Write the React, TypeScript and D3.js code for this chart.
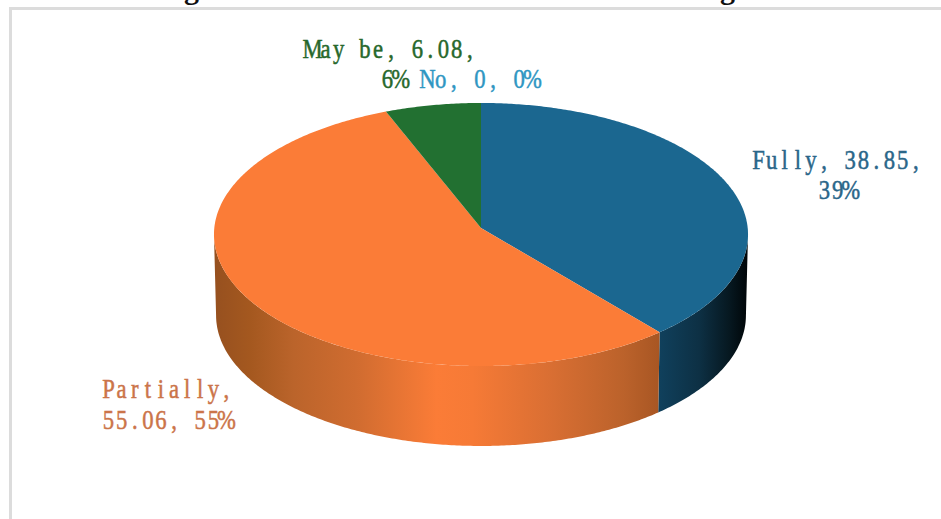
import React from "react";
import * as d3 from "d3";

// Survey shares
const categories = ["Fully", "Partially", "May be", "No"];
const values = [38.85, 55.06, 6.08, 0];
const topColors = ["#1b6790", "#fb7c37", "#227031", "#2b9ac8"];
const textColors = ["#2a6689", "#cb7449", "#27682b", "#2f96c2"];

// Where each label sits: one entry per text line (start x, baseline y, characters)
const labelLines = [
  [{ x: 752, y: 169, from: 0, to: 13 }, { x: 818, y: 199, from: 14, to: 17 }],
  [{ x: 102, y: 398, from: 0, to: 10 }, { x: 102, y: 429, from: 11, to: 21 }],
  [{ x: 306, y: 58, from: 0, to: 13 }, { x: 381, y: 88, from: 14, to: 16 }],
  [{ x: 421, y: 88, from: 0, to: 9 }],
];

// Side-wall shading, left to right across each wall
const wallStops = [
  [
    { at: 0, color: "#10405c" },
    { at: 0.45, color: "#0d3044" },
    { at: 0.8, color: "#06171f" },
    { at: 1, color: "#000507" },
  ],
  [
    { at: 0, color: "#96501f" },
    { at: 0.08, color: "#a4581f" },
    { at: 0.18, color: "#bb642b" },
    { at: 0.32, color: "#d06c30" },
    { at: 0.5, color: "#fb7c37" },
    { at: 0.58, color: "#f67a36" },
    { at: 0.75, color: "#da6f33" },
    { at: 0.92, color: "#bb622b" },
    { at: 1, color: "#a85623" },
  ],
];

const WIDTH = 941;
const HEIGHT = 519;
const PERSPECTIVE = 0.0494;
const CHAR_W = 13.1;
const H_SQUEEZE = 0.84;

const x = d3.scaleLinear().domain([-1, 1]).range([481 - 266.7, 481 + 266.7]);
const y = d3.scaleLinear().domain([-1, 1]).range([228 - 131.2, 228 + 131.2]);
const xBase = d3.scaleLinear().domain([-1, 1]).range([481 - 264.6, 481 + 264.6]);
const yBase = d3.scaleLinear().domain([-1, 1]).range([309 - 130.2, 309 + 130.2]);

// Perspective view of a disc: angle is clockwise from twelve o'clock
const project = (angle: number): [number, number] => {
  const w = 1 + PERSPECTIVE * Math.cos(angle);
  return [Math.sin(angle) / w, -Math.cos(angle) / w];
};

const arcAngles = (a0: number, a1: number) => {
  const n = Math.max(2, Math.ceil((a1 - a0) / 0.01));
  return d3.range(n + 1).map((i) => a0 + ((a1 - a0) * i) / n);
};

const pen = d3.line();
const pie = d3.pie<number>().sort(null).value((d) => d);
const slices = pie(values);

const rimStart = Math.acos(-PERSPECTIVE);
const rimEnd = 2 * Math.PI - rimStart;

const topPath = (a0: number, a1: number) => {
  const rim = arcAngles(a0, a1).map((a) => {
    const [u, v] = project(a);
    return [x(u), y(v)] as [number, number];
  });
  return pen([[x(0), y(0)], ...rim])! + "Z";
};

const wallPath = (a0: number, a1: number) => {
  const from = Math.max(a0, rimStart);
  const to = Math.min(a1, rimEnd);
  if (to <= from) return null;
  const angles = arcAngles(from, to);
  const upper = angles.map((a) => {
    const [u, v] = project(a);
    return [x(u), y(v)] as [number, number];
  });
  const lower = angles
    .map((a) => {
      const [u, v] = project(a);
      return [xBase(u), yBase(v)] as [number, number];
    })
    .reverse();
  const ends = [x(project(from)[0]), x(project(to)[0])];
  return { d: pen([...upper, ...lower])! + "Z", left: Math.min(...ends), right: Math.max(...ends) };
};

const labelText = (i: number) =>
  `${categories[i]}, ${values[i]}, ${Math.round(values[i])}%`;

// Half-width serif look: every character is centred in its own fixed cell
const MonoLine = ({ text, px, py, fill }: { text: string; px: number; py: number; fill: string }) => {
  const cells = Array.from(text).map((_, i) => ((i + 0.5) * CHAR_W) / H_SQUEEZE);
  return (
    <text
      transform={`translate(${px},${py}) scale(${H_SQUEEZE},1)`}
      x={cells.join(" ")}
      y={0}
      textAnchor="middle"
      fill={fill}
      stroke={fill}
      strokeWidth={0.5}
      fontFamily="'Liberation Serif', serif"
      fontSize={27}
      style={{ whiteSpace: "pre" }}
    >
      {text}
    </text>
  );
};

export default function App() {
  const walls = slices.map((s) => wallPath(s.startAngle, s.endAngle));
  return (
    <svg
      width={WIDTH}
      height={HEIGHT}
      viewBox={`0 0 ${WIDTH} ${HEIGHT}`}
      style={{ position: "absolute", left: 0, top: 0, display: "block", background: "#fff" }}
    >
      <defs>
        {walls.map((w, i) =>
          w && wallStops[i] ? (
            <linearGradient key={i} id={`wall-${i}`} gradientUnits="userSpaceOnUse" x1={w.left} x2={w.right} y1={0} y2={0}>
              {wallStops[i].map((s) => (
                <stop key={s.at} offset={s.at} stopColor={s.color} />
              ))}
            </linearGradient>
          ) : null
        )}
      </defs>

      {/* Heading cut off by the top edge */}
      <text x={184} y={-1} fontFamily="'Liberation Serif', serif" fontWeight={700} fontSize={30} fill="#111">g</text>
      <text x={720} y={-1} fontFamily="'Liberation Serif', serif" fontWeight={700} fontSize={30} fill="#111">g</text>

      {/* Chart frame */}
      <path d={`M${WIDTH},8.5H10.5V${HEIGHT}`} fill="none" stroke="#dcdcdc" strokeWidth={3} />

      {walls.map((w, i) => (w ? <path key={i} d={w.d} fill={`url(#wall-${i})`} /> : null))}
      {slices.map((s, i) =>
        s.endAngle > s.startAngle ? <path key={i} d={topPath(s.startAngle, s.endAngle)} fill={topColors[i]} /> : null
      )}

      {labelLines.map((lines, i) =>
        lines.map((l) => (
          <MonoLine key={`${i}-${l.from}`} text={labelText(i).slice(l.from, l.to)} px={l.x} py={l.y} fill={textColors[i]} />
        ))
      )}
    </svg>
  );
}
